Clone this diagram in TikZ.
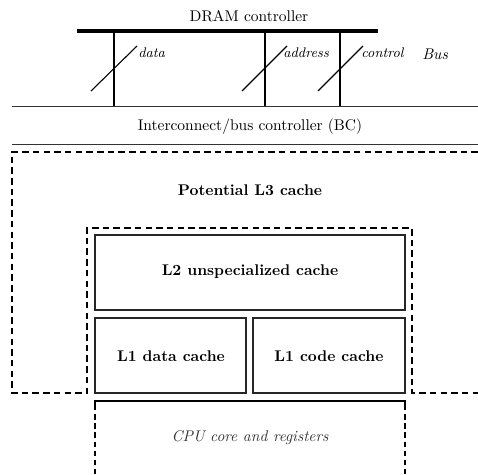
\documentclass[tikz,border=0pt]{standalone}
\begin{document}
\begin{tikzpicture}[x=0.645pt,y=-0.645pt,
  busline/.style={line width=0.6pt,black!80},
  wire/.style={line width=1.3pt},
  slash/.style={line width=0.7pt},
  boxline/.style={line width=0.95pt,black!85},
  lthree/.style={line width=0.8pt,dash pattern=on 4.2pt off 2.7pt},
  cpuside/.style={line width=1.6pt,dash pattern=on 3.5pt off 2.4pt},
  lbl/.style={inner sep=0pt},
  wlbl/.style={inner sep=0pt,anchor=west,font=\small\itshape}]
\useasboundingbox (0,0) rectangle (478,474);
% DRAM controller
\node[lbl] (dram) at (249,16) {DRAM controller};
\draw[line width=2.6pt] (77,31) -- (378,31);
\draw[busline] (12,106) -- (478,106);
\draw[busline] (12,144) -- (478,144);
\node[lbl] (bc) at (250,127) {Interconnect/bus controller (BC)};
% bus wires
\coordinate (d1) at (114,31); \coordinate (d2) at (114,106);
\coordinate (a1) at (265,31); \coordinate (a2) at (265,106);
\coordinate (c1) at (340,31); \coordinate (c2) at (340,106);
\draw[wire] (d1) -- (d2);
\draw[wire] (a1) -- (a2);
\draw[wire] (c1) -- (c2);
\draw[slash] (91,91) -- (137,46);
\draw[slash] (242,91) -- (287,46);
\draw[slash] (318,91) -- (363,46);
\node[wlbl] (ldata) at (138,53) {data};
\node[wlbl] (laddr) at (283,53) {address};
\node[wlbl] (lctrl) at (361,53) {control};
\node[lbl,anchor=west,font=\itshape] (lbus) at (422,54) {Bus};
% L3 outline
\draw[lthree] (478,152) -- (12,152) -- (12,393) -- (87,393) -- (87,228) -- (412,228) -- (412,393) -- (478,393);
\node[lbl,font=\bfseries] (l3) at (250,190) {Potential L3 cache};
% L2 and L1
\draw[boxline] (95,235) rectangle (405,310);
\node[lbl,font=\bfseries] (l2) at (250,272) {L2 unspecialized cache};
\draw[boxline] (95,318) rectangle (246,393);
\node[lbl,font=\bfseries] (l1d) at (171,356) {L1 data cache};
\draw[boxline] (253,318) rectangle (405,393);
\node[lbl,font=\bfseries] (l1c) at (329,356) {L1 code cache};
% CPU
\draw[line width=1.6pt] (95,475) -- (95,401) -- (405,401) -- (405,475);
\draw[white,line width=2pt] (95,405) -- (95,476) (405,405) -- (405,476);
\draw[cpuside] (95,405) -- (95,476);
\draw[cpuside] (405,405) -- (405,476);
\node[lbl,font=\itshape,black!80] (cpu) at (250,438) {CPU core and registers};
\end{tikzpicture}
\end{document}
